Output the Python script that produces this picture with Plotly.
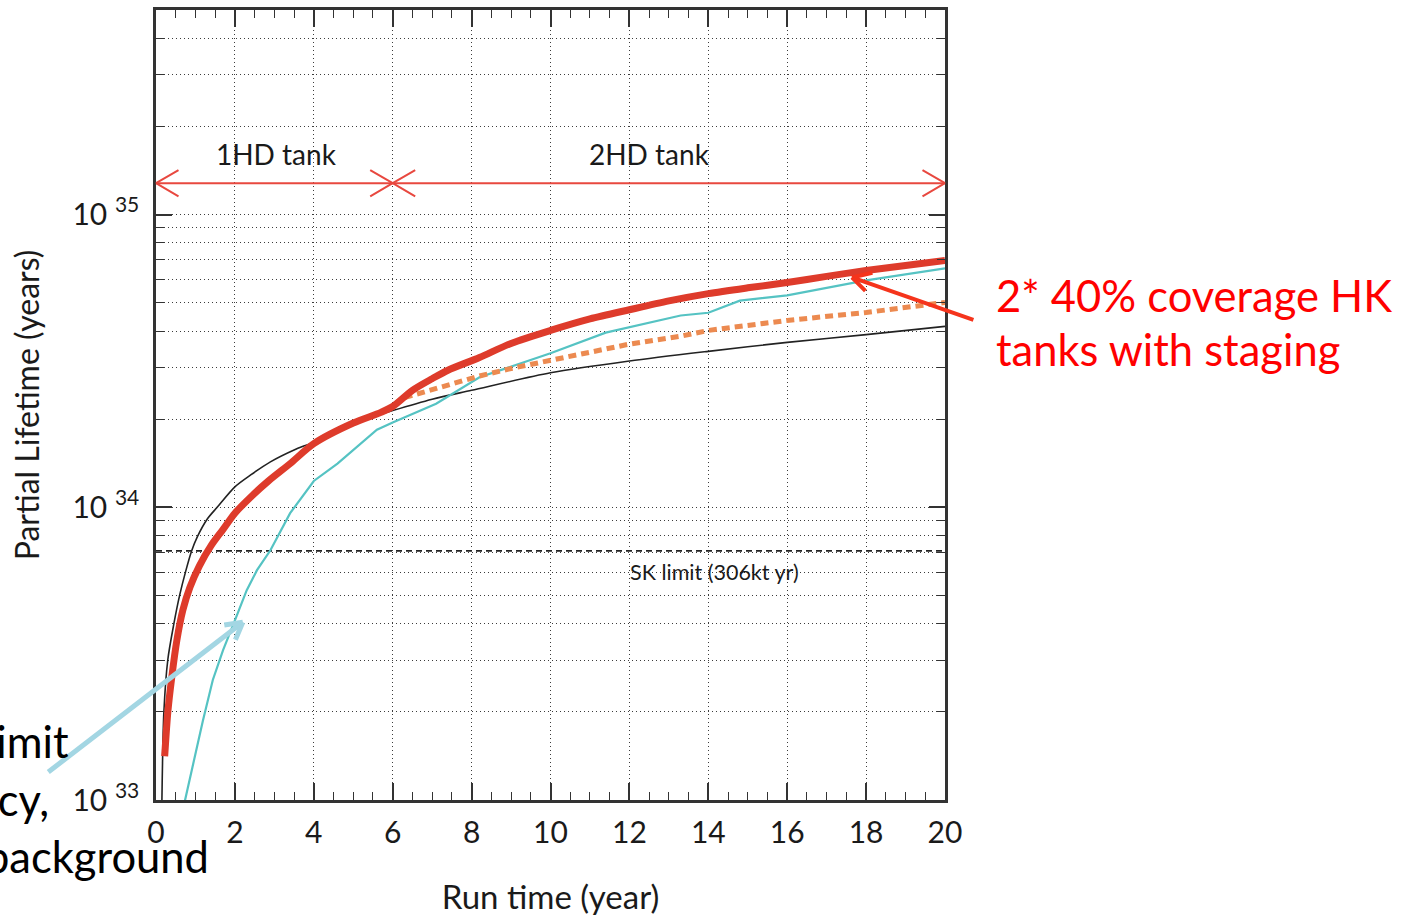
import math
import plotly.graph_objects as go

# ---------------- data ----------------
# Single-tank reference sensitivity (thin black)
years_single = [0.15, 0.2, 0.3, 0.45, 0.6, 0.75, 0.9, 1.05, 1.3, 1.55, 2.0, 2.4, 2.9, 3.5,
                4.0, 5.0, 6.0, 7.0, 8.0, 10.0, 12.0, 14.0, 16.0, 18.0, 20.0]
lifetime_single = [1.00e33, 2.00e33, 3.02e33, 3.98e33, 5.01e33, 6.03e33, 7.08e33, 7.94e33,
                   9.12e33, 1.00e34, 1.175e34, 1.29e34, 1.43e34, 1.57e34, 1.67e34, 1.94e34,
                   2.14e34, 2.34e34, 2.51e34, 2.88e34, 3.16e34, 3.41e34, 3.66e34, 3.89e34,
                   4.15e34]

# 2 x 40% coverage tanks with staging (thick red)
years_staged = [0.22, 0.3, 0.4, 0.53, 0.68, 0.86, 1.1, 1.4, 1.7, 2.0, 2.45, 2.85, 3.4, 4.0,
                5.0, 5.7, 6.0, 6.5, 7.0, 7.4, 8.2, 9.0, 10.0, 11.0, 12.0, 13.0, 14.0, 15.0,
                16.0, 17.0, 18.0, 19.0, 20.0]
lifetime_staged = [1.41e33, 2.00e33, 2.63e33, 3.52e33, 4.45e33, 5.33e33, 6.31e33, 7.41e33,
                   8.41e33, 9.55e33, 1.10e34, 1.23e34, 1.41e34, 1.65e34, 1.94e34, 2.11e34,
                   2.21e34, 2.51e34, 2.75e34, 2.94e34, 3.25e34, 3.63e34, 4.02e34, 4.40e34,
                   4.73e34, 5.07e34, 5.37e34, 5.62e34, 5.86e34, 6.15e34, 6.44e34, 6.70e34,
                   6.97e34]

# Conservative efficiency / background scenario (cyan)
years_conservative = [0.7, 0.94, 1.19, 1.44, 1.7, 2.0, 2.3, 2.56, 2.9, 3.4, 4.0, 4.6, 5.6,
                      6.0, 7.1, 8.2, 10.0, 11.4, 13.3, 14.0, 14.8, 16.0, 18.0, 20.0]
lifetime_conservative = [9.5e32, 1.34e33, 1.87e33, 2.57e33, 3.25e33, 4.11e33, 5.21e33,
                         6.10e33, 7.13e33, 9.55e33, 1.23e34, 1.41e34, 1.84e34, 1.95e34,
                         2.26e34, 2.78e34, 3.36e34, 3.95e34, 4.52e34, 4.62e34, 5.08e34,
                         5.30e34, 5.96e34, 6.55e34]

# Second-tank alternative after the stage switch (orange dashed)
years_alt = [6.3, 7.4, 8.2, 9.0, 10.0, 12.0, 13.3, 14.0, 16.0, 18.0, 20.0]
lifetime_alt = [2.37e34, 2.61e34, 2.81e34, 2.98e34, 3.18e34, 3.61e34, 3.84e34, 4.02e34,
                4.35e34, 4.63e34, 5.01e34]

SK_LIMIT = 7.1e33           # Super-K limit (306 kt yr)
STAGE_SWITCH_YEAR = 6.0     # second tank starts
HD_ARROW_LEVEL = 1.28e35    # height of the stage arrows
X_MIN, X_MAX = 0, 20
Y_MIN, Y_MAX = 1e33, 5e35

x_major = [0, 2, 4, 6, 8, 10, 12, 14, 16, 18, 20]
x_minor = [v / 2 for v in range(0, 41) if v % 4 != 0]
y_major = [1e33, 1e34, 1e35]
y_minor = [m * 10.0 ** e for e in (33, 34, 35) for m in range(2, 10)
           if m * 10.0 ** e <= Y_MAX * 1.001]
y_major_text = ["10 <sup>33</sup>", "10 <sup>34</sup>", "10 <sup>35</sup>"]

# ---------------- layout constants ----------------
W, H = 1405, 917
ML, MR, MT, MB = 156, 460, 10, 117
PW, PH = W - ML - MR, H - MT - MB
FONT = "Lato, 'Open Sans', sans-serif"
RED_TXT = "#ff0000"
ARROW_RED = "#e8483f"
GRID = "#3c3c3c"
GRID_DASH = "1px,3px"


def paper_x(px):
    return (px - ML) / PW


def paper_y(py):
    return (H - MB - py) / PH


fig = go.Figure()

fig.add_trace(go.Scatter(x=[X_MIN, X_MAX], y=[SK_LIMIT, SK_LIMIT], mode="lines",
                         line=dict(color="#222222", width=1.8, dash="6px,4px"),
                         hoverinfo="skip"))
fig.add_trace(go.Scatter(x=years_single, y=lifetime_single, mode="lines",
                         line=dict(color="#222222", width=1.6, shape="spline", smoothing=0.8)))
fig.add_trace(go.Scatter(x=years_conservative, y=lifetime_conservative, mode="lines",
                         line=dict(color="#55c3c3", width=2.2)))
fig.add_trace(go.Scatter(x=years_alt, y=lifetime_alt, mode="lines",
                         line=dict(color="#ec8a50", width=5, dash="8px,5px")))
fig.add_trace(go.Scatter(x=years_staged, y=lifetime_staged, mode="lines",
                         line=dict(color="#de3b2b", width=7, shape="spline", smoothing=0.8)))

# stage arrows (horizontal red line across both stages)
fig.add_trace(go.Scatter(x=[X_MIN, X_MAX], y=[HD_ARROW_LEVEL, HD_ARROW_LEVEL], mode="lines",
                         line=dict(color=ARROW_RED, width=2), hoverinfo="skip"))

annotations = []
lvl = math.log10(HD_ARROW_LEVEL)


def open_head(x, ylog, dx, dy, color, width, xref="x", yref="y"):
    # two arms of an open arrowhead, drawn from the tip outward (pixel offsets)
    for sgn in (1, -1):
        annotations.append(dict(x=x, y=ylog, xref=xref, yref=yref, text="",
                                showarrow=True, arrowhead=0, arrowwidth=width,
                                arrowcolor=color, ax=dx, ay=sgn * dy, standoff=0))


open_head(X_MIN, lvl, 24, 14, ARROW_RED, 2)
open_head(STAGE_SWITCH_YEAR, lvl, -24, 14, ARROW_RED, 2)
open_head(STAGE_SWITCH_YEAR, lvl, 24, 14, ARROW_RED, 2)
open_head(X_MAX, lvl, -24, 14, ARROW_RED, 2)

annotations.append(dict(x=(X_MIN + STAGE_SWITCH_YEAR) / 2 + 0.05, y=lvl, yshift=29,
                        text="1HD tank", showarrow=False,
                        font=dict(family=FONT, size=28, color="#1a1a1a")))
annotations.append(dict(x=12.5, y=lvl, yshift=29, text="2HD tank", showarrow=False,
                        font=dict(family=FONT, size=28, color="#1a1a1a")))
annotations.append(dict(x=14.15, y=math.log10(SK_LIMIT), yshift=-21,
                        text="SK limit (306kt yr)", showarrow=False,
                        font=dict(family=FONT, size=21.5, color="#1a1a1a")))

# red pointer to the staged curve
tip_x, tip_y = 17.64, math.log10(6.1e34)
annotations.append(dict(x=tip_x, y=tip_y, text="", showarrow=True, arrowhead=0,
                        arrowwidth=4, arrowcolor="#f5341c", ax=123, ay=43, standoff=0))
annotations.append(dict(x=tip_x, y=tip_y, text="", showarrow=True, arrowhead=0,
                        arrowwidth=4, arrowcolor="#f5341c", ax=22, ay=-5, standoff=0))
annotations.append(dict(x=tip_x, y=tip_y, text="", showarrow=True, arrowhead=0,
                        arrowwidth=4, arrowcolor="#f5341c", ax=15, ay=15, standoff=0))

# light-blue pointer to the conservative curve
ctip_x, ctip_y = 2.2, math.log10(4.05e33)
for ax_, ay_ in ((-196, 151), (-20, 3), (-8, 19)):
    annotations.append(dict(x=ctip_x, y=ctip_y, text="", showarrow=True, arrowhead=0,
                            arrowwidth=5, arrowcolor="#a3d6e3", ax=ax_, ay=ay_, standoff=0))

# callout text
annotations.append(dict(x=paper_x(994), y=paper_y(295), xref="paper", yref="paper",
                        text="2* 40% coverage HK", showarrow=False, xanchor="left",
                        yanchor="middle", font=dict(family=FONT, size=43.5, color=RED_TXT)))
annotations.append(dict(x=paper_x(994), y=paper_y(349), xref="paper", yref="paper",
                        text="tanks with staging", showarrow=False, xanchor="left",
                        yanchor="middle", font=dict(family=FONT, size=43.5, color=RED_TXT)))
for txt, right_px, mid_py in (("limit", 71, 741), ("efficiency,", 51, 799),
                              ("background", 211, 856)):
    annotations.append(dict(x=paper_x(right_px), y=paper_y(mid_py), xref="paper",
                            yref="paper", text=txt, showarrow=False, xanchor="right",
                            yanchor="middle",
                            font=dict(family=FONT, size=43.5, color="#000000")))

fig.update_layout(
    width=W, height=H,
    margin=dict(l=ML, r=MR, t=MT, b=MB, pad=0),
    paper_bgcolor="white", plot_bgcolor="white",
    showlegend=False,
    annotations=annotations,
    font=dict(family=FONT, color="#1a1a1a"),
)

fig.update_xaxes(
    range=[X_MIN, X_MAX], tickmode="array", tickvals=x_major,
    ticktext=[str(v) for v in x_major], automargin=False,
    ticks="inside", ticklen=17, tickwidth=1.5, tickcolor="#333333",
    showline=True, linewidth=2.5, linecolor="#333333", mirror="ticks",
    showgrid=True, gridcolor=GRID, griddash=GRID_DASH, gridwidth=1,
    zeroline=False,
    tickfont=dict(family=FONT, size=30, color="#1a1a1a"), ticklabelstandoff=4,
    minor=dict(tickmode="array", tickvals=x_minor, ticks="inside", ticklen=8,
               tickwidth=1.3, tickcolor="#333333", showgrid=False),
    title=dict(text="Run time (year)", font=dict(family=FONT, size=33, color="#1a1a1a"),
               standoff=39),
)

fig.update_yaxes(
    type="log", range=[math.log10(Y_MIN), math.log10(Y_MAX)],
    tickmode="array", tickvals=y_major, ticktext=y_major_text, automargin=False,
    ticks="inside", ticklen=16, tickwidth=1.5, tickcolor="#333333",
    showline=True, linewidth=2.5, linecolor="#333333", mirror="ticks",
    showgrid=True, gridcolor=GRID, griddash=GRID_DASH, gridwidth=1,
    zeroline=False,
    tickfont=dict(family=FONT, size=30, color="#1a1a1a"), ticklabelstandoff=8,
    minor=dict(tickmode="array", tickvals=y_minor, ticks="inside", ticklen=8,
               tickwidth=1.3, tickcolor="#333333", showgrid=True,
               gridcolor=GRID, griddash=GRID_DASH, gridwidth=1),
    title=dict(text="Partial Lifetime (years)",
               font=dict(family=FONT, size=32, color="#1a1a1a"), standoff=24),
)

fig.write_html("out.html")
